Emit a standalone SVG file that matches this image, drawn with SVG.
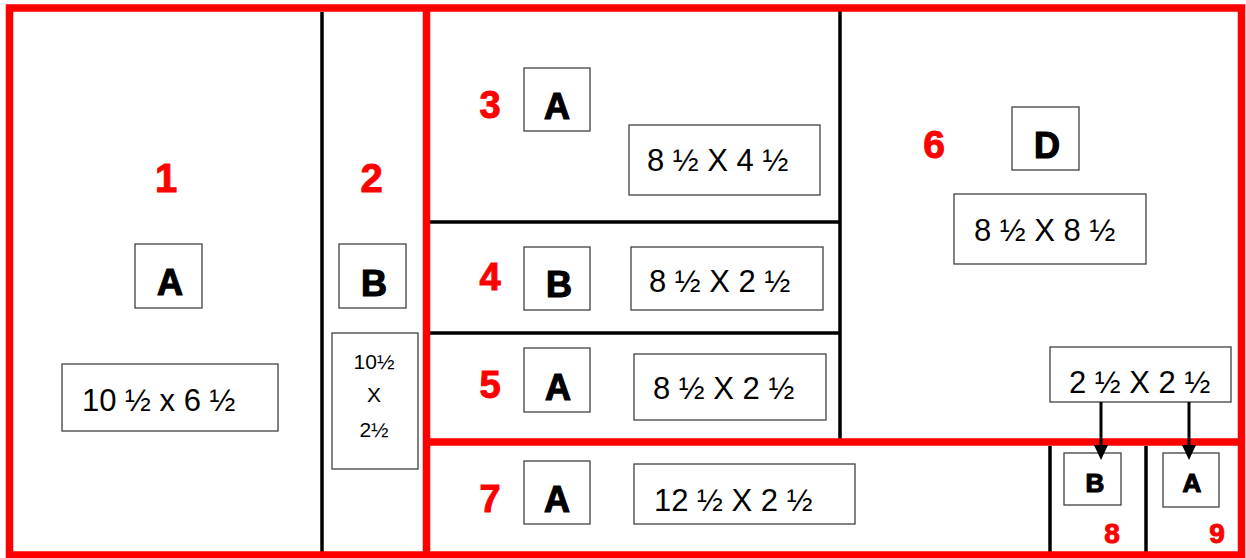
<svg xmlns="http://www.w3.org/2000/svg" width="1246" height="558" viewBox="0 0 1246 558">
<style>
.red{fill:none;stroke:#ff0000;stroke-width:7.5}
.blk{stroke:#000;stroke-width:3.5;fill:none}
.box{fill:#fff;stroke:#404040;stroke-width:1.3}
.num{font-family:"Liberation Sans",Arial,sans-serif;font-weight:bold;fill:#ff0000;stroke:#ff0000;stroke-width:1;text-anchor:middle}
.let{font-family:"Liberation Sans",Arial,sans-serif;font-weight:bold;font-size:36px;fill:#000;stroke:#000;stroke-width:1.2;text-anchor:middle}
.dim{font-family:"Liberation Sans",Arial,sans-serif;font-size:31px;fill:#000}
.dim2{font-family:"Liberation Sans",Arial,sans-serif;font-size:21px;fill:#000;text-anchor:middle}
.arr{stroke:#000;stroke-width:3;fill:none}
</style>
<defs>
<marker id="ah" markerUnits="userSpaceOnUse" markerWidth="16" markerHeight="16" viewBox="0 0 16 16" refX="8" refY="15" orient="auto-start-reverse">
<path d="M1,0 L15,0 L8,15 Z" fill="#000" transform="rotate(0)"/>
</marker>
</defs>
<rect width="1246" height="558" fill="#fff"/>
<g id="frame">
<line class="blk" x1="322" y1="12" x2="322" y2="552"/>
<line class="blk" x1="840" y1="8" x2="840" y2="441"/>
<line class="blk" x1="427" y1="222" x2="840" y2="222"/>
<line class="blk" x1="427" y1="333" x2="840" y2="333"/>
<line class="blk" x1="1050" y1="446" x2="1050" y2="552"/>
<line class="blk" x1="1146" y1="446" x2="1146" y2="552"/>
<rect class="red" x="9.5" y="8" width="1232" height="547"/>
<line class="red" x1="426.5" y1="8" x2="426.5" y2="555"/>
<line class="red" x1="426" y1="442" x2="1242" y2="442"/>
</g>
<g id="cell1">
<text class="num" x="166" y="192" font-size="40">1</text>
<rect class="box" x="135" y="244" width="67" height="64"/>
<text class="let" x="170" y="295">A</text>
<rect class="box" x="62" y="364" width="216" height="67"/>
<text class="dim" x="82" y="411">10 ½ x 6 ½</text>
</g>
<g id="cell2">
<text class="num" x="371.5" y="192" font-size="40">2</text>
<rect class="box" x="339" y="244" width="67" height="64"/>
<text class="let" x="374" y="296">B</text>
<rect class="box" x="332" y="333" width="86" height="136"/>
<text class="dim2" x="374" y="369">10½</text>
<text class="dim2" x="374" y="402">X</text>
<text class="dim2" x="374" y="437">2½</text>
</g>
<g id="cell3">
<text class="num" x="490" y="118" font-size="38">3</text>
<rect class="box" x="524" y="68" width="66" height="63"/>
<text class="let" x="557" y="119">A</text>
<rect class="box" x="629" y="125" width="191" height="70"/>
<text class="dim" x="647" y="171">8 ½ X 4 ½</text>
</g>
<g id="cell4">
<text class="num" x="490" y="290" font-size="38">4</text>
<rect class="box" x="524" y="247" width="66" height="63"/>
<text class="let" x="559" y="297">B</text>
<rect class="box" x="631" y="247" width="192" height="63"/>
<text class="dim" x="649" y="292">8 ½ X 2 ½</text>
</g>
<g id="cell5">
<text class="num" x="490" y="398" font-size="38">5</text>
<rect class="box" x="524" y="348" width="66" height="64"/>
<text class="let" x="558" y="400">A</text>
<rect class="box" x="634" y="354" width="192" height="66"/>
<text class="dim" x="653" y="399">8 ½ X 2 ½</text>
</g>
<g id="cell6">
<text class="num" x="934" y="158" font-size="39">6</text>
<rect class="box" x="1012" y="107" width="67" height="63"/>
<text class="let" x="1047" y="158">D</text>
<rect class="box" x="954" y="194" width="192" height="70"/>
<text class="dim" x="974" y="241">8 ½ X 8 ½</text>
<rect class="box" x="1050" y="347" width="181" height="55"/>
<text class="dim" x="1069" y="393">2 ½ X 2 ½</text>
</g>
<g id="cell7">
<text class="num" x="490" y="512" font-size="38">7</text>
<rect class="box" x="524" y="461" width="66" height="63"/>
<text class="let" x="557" y="512">A</text>
<rect class="box" x="634" y="464" width="221" height="60"/>
<text class="dim" x="654" y="511">12 ½ X 2 ½</text>
</g>
<g id="cell8">
<rect class="box" x="1064" y="453" width="57" height="52"/>
<text class="let" x="1095" y="492" font-size="26" style="font-size:26px">B</text>
<text class="num" x="1112" y="543" font-size="28">8</text>
</g>
<g id="cell9">
<rect class="box" x="1163" y="453" width="56" height="54"/>
<text class="let" x="1192" y="492" style="font-size:26px">A</text>
<text class="num" x="1217" y="543" font-size="28">9</text>
</g>
<g id="connectors">
<line class="arr" x1="1101" y1="402" x2="1101" y2="446"/>
<path d="M1094,445 L1108,445 L1101,460 Z" fill="#000"/>
<line class="arr" x1="1189" y1="402" x2="1189" y2="446"/>
<path d="M1182,445 L1196,445 L1189,460 Z" fill="#000"/>
</g>
</svg>
